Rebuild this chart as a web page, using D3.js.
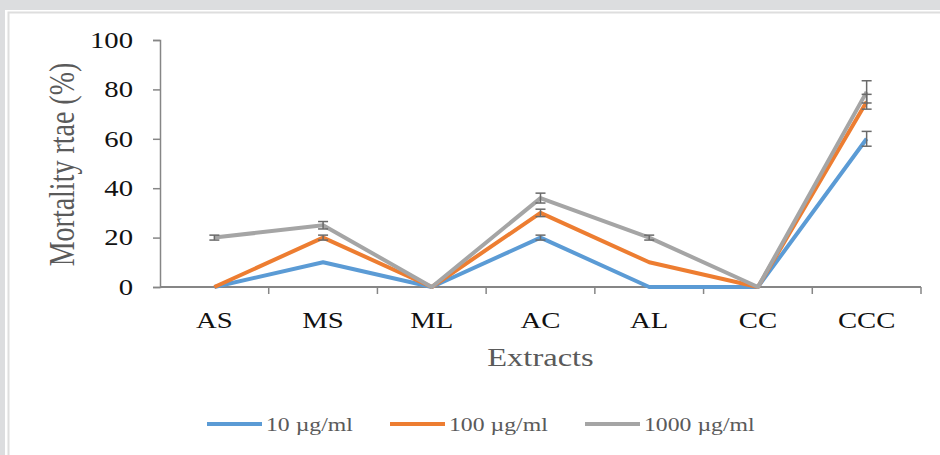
<!DOCTYPE html>
<html>
<head>
<meta charset="utf-8">
<script src="https://cdn.jsdelivr.net/npm/d3@7"></script>
<style>
  body { margin: 0; background: #dcdddf; }
  svg { display: block; }
</style>
</head>
<body>
<div id="chart"></div>
<script>
// Chart data
const extracts = ["AS", "MS", "ML", "AC", "AL", "CC", "CCC"];
const seriesNames = ["10 µg/ml", "100 µg/ml", "1000 µg/ml"];
const seriesColors = ["#5b9bd5", "#ed7d31", "#a5a5a5"];
const values10 = [0, 10, 0, 20, 0, 0, 60];
const values100 = [0, 20, 0, 30, 10, 0, 75];
const values1000 = [20, 25, 0, 36, 20, 0, 79];
const errors10 = [0, 0, 0, 1, 0, 0, 3];
const errors100 = [0, 1, 0, 1.5, 0, 0, 3];
const errors1000 = [1, 1.5, 0, 2, 1, 0, 4.5];
const yTicks = [0, 20, 40, 60, 80, 100];

const width = 940, height = 455;
const margin = {top: 40, right: 19, bottom: 168, left: 160};
// the text in the original looks stretched sideways
const stretch = 1.25;
const serif = "Liberation Serif, Times New Roman, serif";

let svg = d3.select("#chart").append("svg")
    .attr("width", width)
    .attr("height", height);

//Card background
svg.append("rect")
    .attr("x", 5).attr("y", 10)
    .attr("width", width - 5).attr("height", height - 10)
    .attr("fill", "#ffffff");
svg.append("path")
    .attr("d", "M8.5," + height + "V12.5H" + width)
    .attr("fill", "none")
    .attr("stroke", "#dedede")
    .attr("stroke-width", 2);

let x = d3.scaleBand()
    .domain(extracts)
    .range([margin.left, width - margin.right]);
let y = d3.scaleLinear()
    .domain([0, 100])
    .range([height - margin.bottom, margin.top]);

const series = [
    {name: seriesNames[0], color: seriesColors[0], vals: values10, errs: errors10},
    {name: seriesNames[1], color: seriesColors[1], vals: values100, errs: errors100},
    {name: seriesNames[2], color: seriesColors[2], vals: values1000, errs: errors1000}
];

// Y axis
let yAxis = svg.append("g")
    .attr("transform", "translate(" + margin.left + ",0)")
    .call(d3.axisLeft(y).tickValues(yTicks).tickSize(7).tickPadding(14.6));
yAxis.select(".domain").attr("stroke", "#868686").attr("stroke-width", 1.5);
yAxis.selectAll(".tick line").attr("stroke", "#868686").attr("stroke-width", 1.5);
yAxis.selectAll("text")
    .attr("transform", "scale(" + stretch + ",1)")
    .attr("font-family", serif)
    .attr("font-size", 23)
    .attr("fill", "#111");

// X axis: ticks at band edges
let xAxisG = svg.append("g")
    .attr("transform", "translate(0," + y(0) + ")");
xAxisG.append("line")
    .attr("x1", margin.left).attr("x2", width - margin.right)
    .attr("stroke", "#868686").attr("stroke-width", 2);
xAxisG.selectAll(".edge")
    .data(extracts)
    .enter().append("line")
    .attr("x1", d => x(d) + x.bandwidth()).attr("x2", d => x(d) + x.bandwidth())
    .attr("y1", 0).attr("y2", 7)
    .attr("stroke", "#868686").attr("stroke-width", 1.5);
xAxisG.selectAll(".lbl")
    .data(extracts)
    .enter().append("text")
    .attr("transform", d => "translate(" + (x(d) + x.bandwidth() / 2) + ",41) scale(" + stretch + ",1)")
    .attr("text-anchor", "middle")
    .attr("font-family", serif)
    .attr("font-size", 23)
    .attr("fill", "#111")
    .text(d => d);

// Axis titles
svg.append("text")
    .attr("transform", "translate(74," + (y(50) + 1) + ") scale(" + stretch + ",1) rotate(-90)")
    .attr("text-anchor", "middle")
    .attr("font-family", serif)
    .attr("font-size", 28)
    .attr("fill", "#5a5a5a")
    .text("Mortality rtae (%)");
svg.append("text")
    .attr("transform", "translate(" + (x("AC") + x.bandwidth() / 2) + ",366) scale(" + stretch + ",1)")
    .attr("text-anchor", "middle")
    .attr("font-family", serif)
    .attr("font-size", 26)
    .attr("fill", "#5a5a5a")
    .text("Extracts");

// Lines
let line = d3.line()
    .x((d, i) => x(extracts[i]) + x.bandwidth() / 2)
    .y(d => y(d));

series.forEach(s => {
    svg.append("path")
        .datum(s.vals)
        .attr("d", line)
        .attr("fill", "none")
        .attr("stroke", s.color)
        .attr("stroke-width", 4)
        .attr("stroke-linejoin", "round");
});

// Error bars
series.forEach(s => {
    let g = svg.append("g");
    s.vals.forEach((v, i) => {
        if (s.errs[i] <= 0) return;
        let cx = x(extracts[i]) + x.bandwidth() / 2;
        let y1 = y(v + s.errs[i]), y2 = y(v - s.errs[i]);
        g.append("line").attr("x1", cx).attr("x2", cx).attr("y1", y1).attr("y2", y2);
        g.append("line").attr("x1", cx - 5).attr("x2", cx + 5).attr("y1", y1).attr("y2", y1);
        g.append("line").attr("x1", cx - 5).attr("x2", cx + 5).attr("y1", y2).attr("y2", y2);
    });
    g.selectAll("line").attr("stroke", "#6a6a6a").attr("stroke-width", 1.5);
});

// Legend
const legendX = [207, 390, 585];
let legend = svg.append("g");
series.forEach((s, i) => {
    legend.append("line")
        .attr("x1", legendX[i]).attr("x2", legendX[i] + 55)
        .attr("y1", 424).attr("y2", 424)
        .attr("stroke", s.color)
        .attr("stroke-width", 4);
    legend.append("text")
        .attr("transform", "translate(" + (legendX[i] + 59) + ",431) scale(" + stretch + ",1)")
        .attr("font-family", serif)
        .attr("font-size", 19)
        .attr("fill", "#5a5a5a")
        .text(s.name);
});
</script>
</body>
</html>
